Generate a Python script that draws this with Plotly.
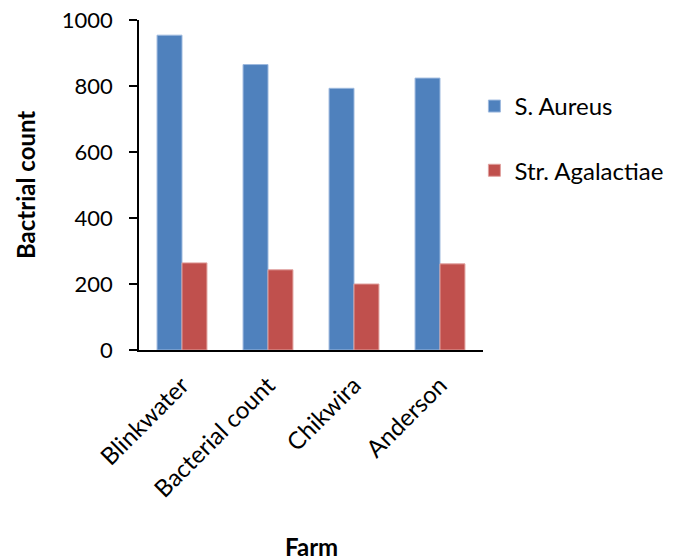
import plotly.graph_objects as go

farms = ["Blinkwater", "Bacterial count", "Chikwira", "Anderson"]
s_aureus = [954, 865, 793, 824]
str_agalactiae = [264, 243, 200, 261]
y_ticks = [0, 200, 400, 600, 800, 1000]

FONT = "Lato"

fig = go.Figure()
fig.add_trace(go.Bar(name="S. Aureus", x=farms, y=s_aureus,
                     marker=dict(color="#4F81BD", line=dict(color="#9DB9DE", width=1)),
                     legendgroup="a"))
fig.add_trace(go.Bar(name="Str. Agalactiae", x=farms, y=str_agalactiae,
                     marker=dict(color="#C0504D", line=dict(color="#E0A09E", width=1)),
                     legendgroup="b"))

fig.update_layout(
    width=685, height=552,
    margin=dict(l=131, r=210, t=12, b=210, autoexpand=False),
    paper_bgcolor="white", plot_bgcolor="white",
    barmode="group", bargap=0.42, bargroupgap=0,
    font=dict(family=FONT, size=24, color="black"),
    legend=dict(x=0.975, y=0.641, xanchor="left", yanchor="middle",
                traceorder="grouped", tracegroupgap=30,
                font=dict(family=FONT, size=24), itemwidth=30),
    xaxis=dict(showline=True, linecolor="black", linewidth=1.5, ticks="",
               tickangle=-45, tickfont=dict(size=24), automargin=False,
               ticklabelstandoff=10, ticklabeloverflow="allow"),
    yaxis=dict(range=[0, 1000], tickvals=y_ticks, showgrid=False, zeroline=False,
               showline=True, linecolor="black", linewidth=1.5,
               ticks="outside", ticklen=8, tickcolor="black", tickwidth=1.5,
               tickfont=dict(size=22), automargin=False, ticklabelstandoff=12,
               ticklabeloverflow="allow"),
    annotations=[
        dict(text="<b>Farm</b>", xref="paper", yref="paper", x=0.5, y=0,
             yshift=-196, xanchor="center", yanchor="middle", showarrow=False,
             font=dict(size=24)),
        dict(text="<b>Bactrial count</b>", xref="paper", yref="paper", x=0, y=0.5,
             xshift=-114, xanchor="center", yanchor="middle", showarrow=False,
             textangle=-90, font=dict(size=24)),
    ],
)

fig.write_html("out.html")
